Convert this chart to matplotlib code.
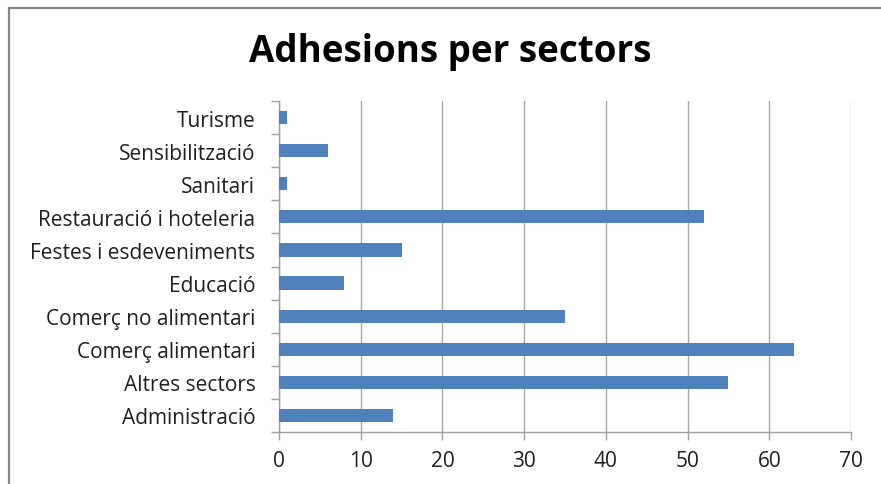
import matplotlib.pyplot as plt
from matplotlib.patches import Rectangle
import numpy as np

sectors = ["Administració", "Altres sectors", "Comerç alimentari",
           "Comerç no alimentari", "Educació", "Festes i esdeveniments",
           "Restauració i hoteleria", "Sanitari", "Sensibilització", "Turisme"]
adhesions = [14, 55, 63, 35, 8, 15, 52, 1, 6, 1]
xticks = [0, 10, 20, 30, 40, 50, 60, 70]

plt.rcParams['font.family'] = ['Open Sans', 'DejaVu Sans']

fig = plt.figure(figsize=(8.81, 4.85), dpi=100)
ax = fig.add_axes([279/881, 52/485, 572/881, 331/485])

# outer chart border
fig.patches.append(Rectangle((9/881, -0.1), 1.2, 1 - 9/485 + 0.1, transform=fig.transFigure,
                             fill=False, edgecolor='#868686', linewidth=1.6))

y = np.arange(len(sectors))
ax.barh(y, adhesions, height=0.4, color='#4F81BD', zorder=3)

ax.set_xlim(0, 70)
ax.set_ylim(-0.5, len(sectors) - 0.5)
ax.set_xticks(xticks)
ax.set_yticks(y)
ax.set_yticklabels(sectors)
ax.set_yticks(np.arange(-0.5, len(sectors)), minor=True)
ax.tick_params(axis='y', which='major', length=0, pad=17, labelsize=15, labelcolor='#1f1f1f')
ax.tick_params(axis='y', which='minor', length=6, color='#A0A0A0', width=1)
ax.tick_params(axis='x', length=6, color='#A0A0A0', width=1, labelsize=15, labelcolor='#1f1f1f', pad=7)

ax.grid(axis='x', color='#A6A6A6', linewidth=1, zorder=0)
for s in ['top', 'right']:
    ax.spines[s].set_visible(False)
for s in ['left', 'bottom']:
    ax.spines[s].set_color('#A0A0A0')
    ax.spines[s].set_linewidth(1)

fig.text(450/881, 1 - 52/485, "Adhesions per sectors", ha='center', va='center',
         fontsize=26.5, fontweight='bold', color='black')

fig.savefig("out.png", dpi=100)
